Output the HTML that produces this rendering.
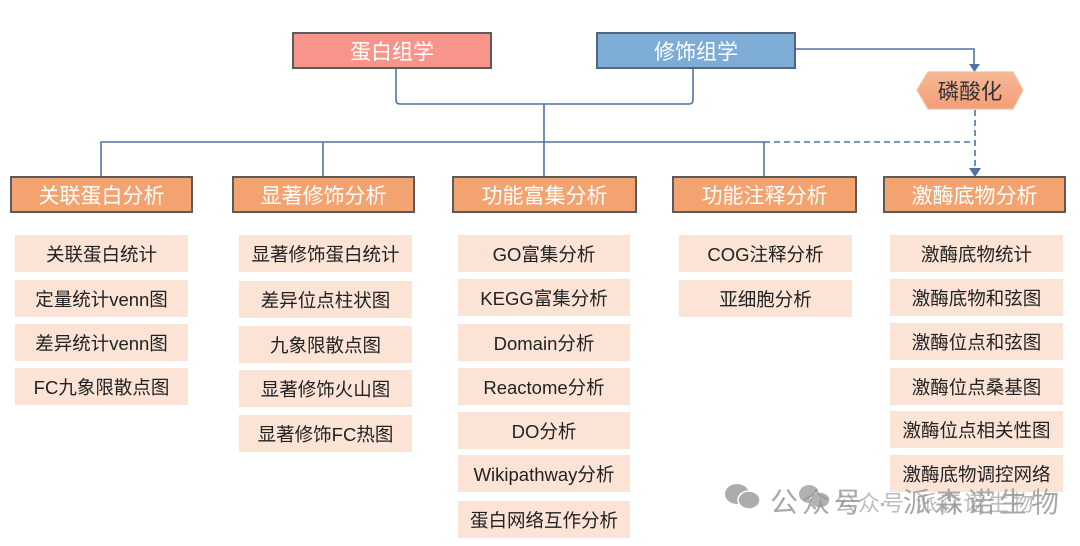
<!DOCTYPE html>
<html><head><meta charset="utf-8">
<style>
html,body{margin:0;padding:0;background:#fff;}
body{width:1080px;height:546px;position:relative;overflow:hidden;font-family:"Liberation Sans","Noto Sans CJK SC",sans-serif;}
.b{position:absolute;box-sizing:border-box;display:flex;align-items:center;justify-content:center;white-space:nowrap;}
.top{height:37px;top:32px;border:2px solid #5b5b5b;color:#fff;font-size:21px;}
.l2{height:37px;top:176px;border:2px solid #5b5b5b;background:#F3A36F;color:#fff;font-size:21px;}
.s{height:37px;background:#FBE4D5;color:#222;font-size:18.5px;}
.wm{position:absolute;color:#999;white-space:nowrap;opacity:.85;}
</style></head><body>
<svg width="1080" height="546" style="position:absolute;left:0;top:0">
<g fill="none" stroke="#4F73A8" stroke-width="1.6">
<path d="M396 69 V100 Q396 104 400 104 H689 Q693 104 693 100 V69"/>
<path d="M544 104 V142"/>
<path d="M101 176 V142 H764"/>
<path d="M323 142 V176"/>
<path d="M544 142 V176"/>
<path d="M764 142 V176"/>
<path d="M796 49 H974 V66"/>
<path d="M764 142 H975" stroke-dasharray="6,4"/>
<path d="M975 110 V170" stroke-dasharray="6,4"/>
</g>
<polygon points="969,64 980,64 974.5,72" fill="#4F73A8"/>
<polygon points="969,168 981,168 975,177" fill="#4F73A8"/>
<defs><linearGradient id="hg" x1="0" y1="0" x2="0" y2="1"><stop offset="0" stop-color="#F7B896"/><stop offset="1" stop-color="#F39E78"/></linearGradient></defs>
<polygon points="917,90 928,72 1013,72 1023,90 1013,109 928,109" fill="url(#hg)" stroke="#F1C0A6" stroke-width="1.2"/>
</svg>
<div class="b" style="left:916px;top:72px;width:108px;height:37px;font-size:21.5px;color:#333;">磷酸化</div>

<div class="b top" style="left:292px;width:200px;background:#F7958A;">蛋白组学</div>
<div class="b top" style="left:596px;width:200px;background:#7DADD5;border-color:#4f6784;">修饰组学</div>

<div class="b l2" style="left:10px;width:183px;">关联蛋白分析</div>
<div class="b l2" style="left:232px;width:183px;">显著修饰分析</div>
<div class="b l2" style="left:452px;width:185px;">功能富集分析</div>
<div class="b l2" style="left:672px;width:185px;">功能注释分析</div>
<div class="b l2" style="left:883px;width:183px;">激酶底物分析</div>

<div class="b s" style="left:15px;width:173px;top:235px;">关联蛋白统计</div>
<div class="b s" style="left:15px;width:173px;top:280px;">定量统计venn图</div>
<div class="b s" style="left:15px;width:173px;top:324px;">差异统计venn图</div>
<div class="b s" style="left:15px;width:173px;top:368px;">FC九象限散点图</div>

<div class="b s" style="left:239px;width:173px;top:235px;">显著修饰蛋白统计</div>
<div class="b s" style="left:239px;width:173px;top:281px;">差异位点柱状图</div>
<div class="b s" style="left:239px;width:173px;top:326px;">九象限散点图</div>
<div class="b s" style="left:239px;width:173px;top:370px;">显著修饰火山图</div>
<div class="b s" style="left:239px;width:173px;top:415px;">显著修饰FC热图</div>

<div class="b s" style="left:458px;width:172px;top:235px;">GO富集分析</div>
<div class="b s" style="left:458px;width:172px;top:279px;">KEGG富集分析</div>
<div class="b s" style="left:458px;width:172px;top:324px;">Domain分析</div>
<div class="b s" style="left:458px;width:172px;top:368px;">Reactome分析</div>
<div class="b s" style="left:458px;width:172px;top:412px;">DO分析</div>
<div class="b s" style="left:458px;width:172px;top:455px;">Wikipathway分析</div>
<div class="b s" style="left:458px;width:172px;top:501px;">蛋白网络互作分析</div>

<div class="b s" style="left:679px;width:173px;top:235px;">COG注释分析</div>
<div class="b s" style="left:679px;width:173px;top:280px;">亚细胞分析</div>

<div class="b s" style="left:890px;width:173px;top:235px;">激酶底物统计</div>
<div class="b s" style="left:890px;width:173px;top:279px;">激酶底物和弦图</div>
<div class="b s" style="left:890px;width:173px;top:323px;">激酶位点和弦图</div>
<div class="b s" style="left:890px;width:173px;top:368px;">激酶位点桑基图</div>
<div class="b s" style="left:890px;width:173px;top:411px;">激酶位点相关性图</div>
<div class="b s" style="left:890px;width:173px;top:455px;">激酶底物调控网络</div>

<svg width="40" height="28" style="position:absolute;left:723px;top:483px;opacity:.7">
<ellipse cx="14" cy="11" rx="12" ry="10" fill="#8a8a8a"/>
<ellipse cx="26" cy="17" rx="11" ry="9" fill="#8a8a8a" stroke="#fff" stroke-width="1.5"/>
</svg>
<svg width="36" height="26" style="position:absolute;left:797px;top:484px;opacity:.65">
<ellipse cx="12" cy="10" rx="10" ry="9" fill="#8a8a8a"/>
<ellipse cx="23" cy="16" rx="10" ry="8" fill="#8a8a8a" stroke="#fff" stroke-width="1.5"/>
</svg>
<div class="wm" style="left:770px;top:481px;font-size:28px;letter-spacing:4px;">公众号 · 派森诺生物</div>
<div class="wm" style="left:834px;top:486px;font-size:22px;letter-spacing:2px;opacity:.65;">公众号·派森诺生物</div>
</body></html>
